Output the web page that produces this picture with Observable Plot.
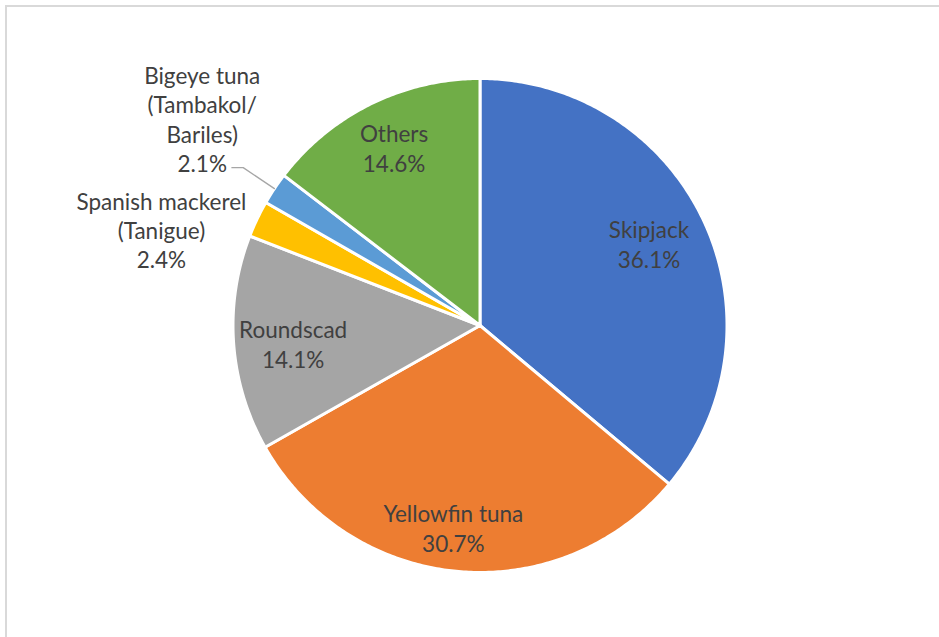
<!DOCTYPE html>
<html>
<head>
<meta charset="utf-8">
<script src="https://cdn.jsdelivr.net/npm/d3@7"></script>
<script src="https://cdn.jsdelivr.net/npm/@observablehq/plot@0.6"></script>
<style>
  html, body { margin: 0; padding: 0; background: #fff; overflow: hidden; }
  #wrap { position: relative; width: 939px; height: 637px; }
  #frame { position: absolute; left: 5px; top: 5px; width: 1000px; height: 1000px;
           border: 2px solid #d9d9d9; pointer-events: none; box-sizing: border-box; }
</style>
</head>
<body>
<div id="wrap"><div id="chart"></div><div id="frame"></div></div>
<script>
// ---- data ----
const categories = ["Skipjack", "Yellowfin tuna", "Roundscad", "Spanish mackerel\n(Tanigue)", "Bigeye tuna\n(Tambakol/\nBariles)", "Others"];
const shares = [36.1, 30.7, 14.1, 2.4, 2.1, 14.6];
const colors = ["#4472C4", "#ED7D31", "#A5A5A5", "#FFC000", "#5B9BD5", "#70AD47"];

// ---- label placement (style): radius factor and angle shift (degrees) from slice mid angle ----
const labelRadius = [0.76, 0.825, 0.76, 1.347, 1.402, 0.80];
const labelShift  = [-0.8, 2.3, -1.4, -8.8, 3.0, 0.5];
const leaderFor   = [false, false, false, false, true, false];

const W = 939, H = 637, cx = 479.5, cy = 325, R = 247;

const arcs = d3.pie().sort(null).value(d => d)(shares);

// slice polygons in unit-radius data space
const slices = arcs.map((a, i) => {
  const pts = [{x: 0, y: 0}];
  const n = Math.max(8, Math.ceil((a.endAngle - a.startAngle) / 0.01));
  for (let k = 0; k <= n; k++) {
    const t = a.startAngle + (a.endAngle - a.startAngle) * k / n;
    pts.push({x: Math.sin(t), y: Math.cos(t)});
  }
  pts.push({x: 0, y: 0});
  return pts;
});

const labels = arcs.map((a, i) => {
  const mid = (a.startAngle + a.endAngle) / 2 + labelShift[i] * Math.PI / 180;
  return {
    x: labelRadius[i] * Math.sin(mid),
    y: labelRadius[i] * Math.cos(mid),
    text: categories[i] + "\n" + d3.format(".1f")(shares[i]) + "%"
  };
});

// leader lines (from label to slice edge)
const leaders = [];
arcs.forEach((a, i) => {
  if (!leaderFor[i]) return;
  const mid = (a.startAngle + a.endAngle) / 2;
  const L = labels[i];
  const sx = L.x + 29.7 / R, sy = L.y - 48.9 / R;
  leaders.push({x: sx, y: sy, g: i});
  leaders.push({x: sx + 11.3 / R, y: sy, g: i});
  leaders.push({x: 1.0 * Math.sin(mid), y: 1.0 * Math.cos(mid), g: i});
});

const marks = slices.map((pts, i) =>
  Plot.line(pts, {x: "x", y: "y", fill: colors[i], stroke: "white", strokeWidth: 3, strokeLinejoin: "round"})
);
marks.push(Plot.line(leaders, {x: "x", y: "y", z: "g", stroke: "#a6a6a6", strokeWidth: 1.3}));
marks.push(Plot.text(labels, {
  x: "x", y: "y", text: "text",
  fill: "#404040", fontSize: 22.5, lineHeight: 1.3,
  fontFamily: "Lato, 'Open Sans', sans-serif", textAnchor: "middle"
}));

const chart = Plot.plot({
  width: W, height: H, margin: 0,
  x: {domain: [-1, 1], range: [cx - R, cx + R], axis: null},
  y: {domain: [-1, 1], range: [cy + R, cy - R], axis: null},
  style: {background: "white", overflow: "visible"},
  marks
});
document.getElementById("chart").appendChild(chart);
</script>
</body>
</html>
